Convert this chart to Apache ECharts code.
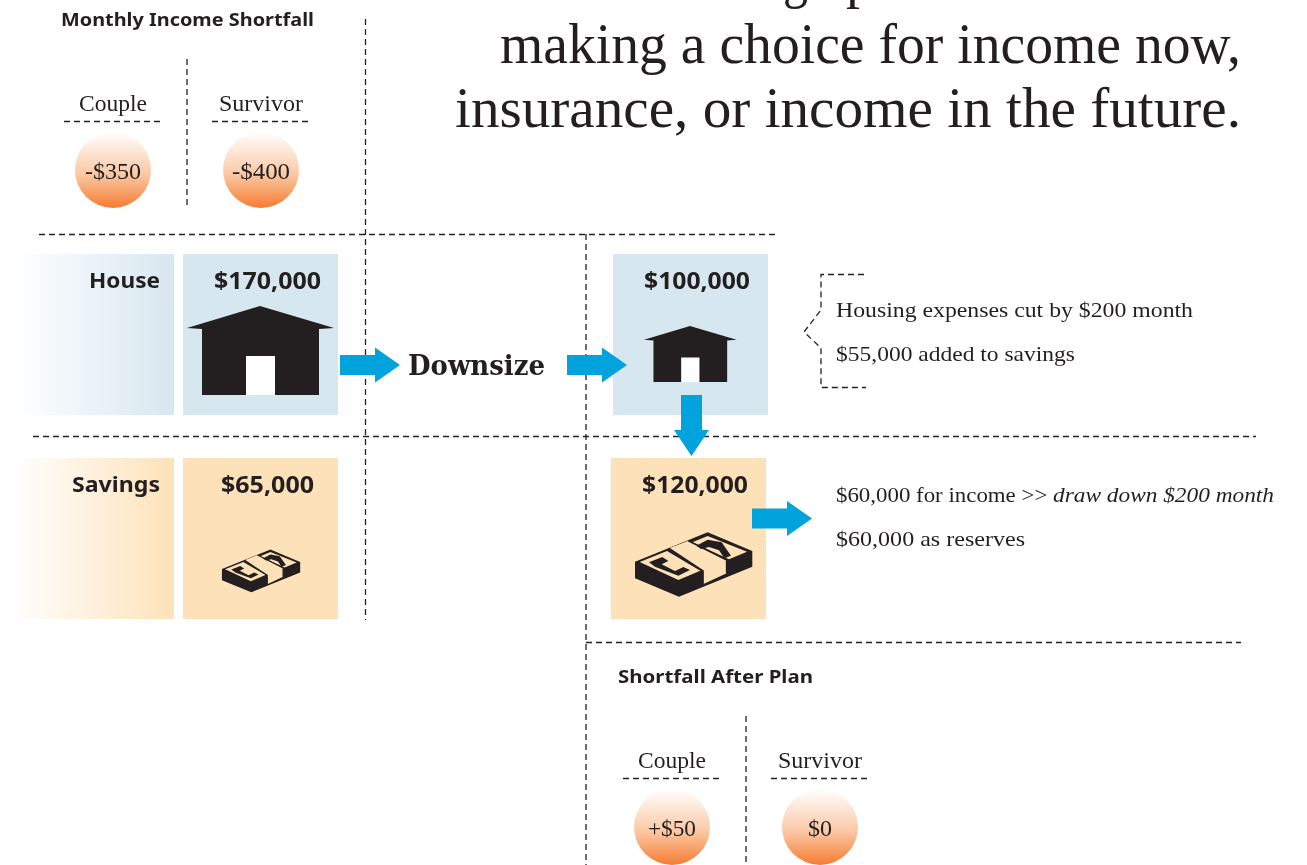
<!DOCTYPE html>
<html>
<head>
<meta charset="utf-8">
<title>Downsize</title>
<script src="https://cdn.jsdelivr.net/npm/echarts@6/dist/echarts.min.js"></script>
<style>
  html, body { margin: 0; padding: 0; background: #fff; }
  #chart { width: 1307px; height: 865px; }
</style>
</head>
<body>
<div id="chart"></div>
<script>
// text and values
const headlineLines = ['making a choice for income now,', 'insurance, or income in the future.']
const headlineCut = ['g', 'p'] // only the descenders of the cut-off first line are visible
const groups = ['Couple', 'Survivor']
const shortfallTitle = 'Monthly Income Shortfall'
const shortfallBefore = ['-$350', '-$400']
const afterTitle = 'Shortfall After Plan'
const shortfallAfter = ['+$50', '$0']
const rowNames = ['House', 'Savings']
const valuesBefore = ['$170,000', '$65,000']
const valuesAfter = ['$100,000', '$120,000']
const moveLabel = 'Downsize'
const houseNotes = ['Housing expenses cut by $200 month', '$55,000 added to savings']
const savingsNotes = ['$60,000 for income >> ', 'draw down $200 month', '$60,000 as reserves']

const INK = '#231f20'
const BLUE = '#00a3dc'
const SKY = '#d7e7f0'
const SAND = '#fde2b9'
const SERIF = '"Liberation Serif"'
const SANS = '"Noto Sans"'

const ctx = document.createElement('canvas').getContext('2d')
const els = []

// text squeezed to the width it has in the picture
function txt(s, x, y, w, size, family, weight, style) {
  const font = (style || 'normal') + ' ' + (weight || 'normal') + ' ' + size + 'px ' + family
  ctx.font = font
  els.push({
    type: 'text', x: x, y: y, z: 10,
    scaleX: w / ctx.measureText(s).width,
    style: { text: s, font: font, fill: INK, align: 'left', verticalAlign: 'middle' }
  })
}
function dash(points) {
  els.push({
    type: 'polyline', z: 3,
    shape: { points: points },
    style: { stroke: '#222', lineWidth: 1.3, lineDash: [6, 4], fill: null }
  })
}
function poly(points, fill, extra) {
  els.push({ type: 'polygon', z: 5, shape: { points: points }, style: Object.assign({ fill: fill }, extra || {}) })
}
function line(points, width) {
  els.push({ type: 'polyline', z: 6, shape: { points: points }, style: { stroke: INK, lineWidth: width, fill: null } })
}
function rect(x, y, w, h, fill) {
  els.push({ type: 'rect', z: 1, shape: { x: x, y: y, width: w, height: h }, style: { fill: fill } })
}
function fade(color) {
  return new echarts.graphic.LinearGradient(0, 0, 1, 0, [
    { offset: 0, color: '#ffffff' },
    { offset: 1, color: color }
  ])
}
function ball(cx, cy, s, x, w) {
  els.push({
    type: 'circle', z: 4, shape: { cx: cx, cy: cy, r: 38 },
    style: {
      fill: new echarts.graphic.LinearGradient(0, 0, 0, 1, [
        { offset: 0, color: '#ffffff' },
        { offset: 0.55, color: '#fbc9a6' },
        { offset: 1, color: '#f57c30' }
      ])
    }
  })
  txt(s, x, cy + 3, w, 23, SERIF)
}
function arrowRight(x, y) {
  poly([[x, y - 10], [x + 35, y - 10], [x + 35, y - 17.5], [x + 60, y], [x + 35, y + 17.5], [x + 35, y + 10], [x, y + 10]], BLUE)
}
function house(x, y, k) {
  const p = pts => pts.map(q => [x + q[0] * k, y + q[1] * k])
  poly(p([[73, 0], [147, 22], [132, 23], [132, 89], [15, 89], [15, 23], [0, 22]]), INK)
  poly(p([[59, 50], [88, 50], [88, 89], [59, 89]]), '#fff')
}
// money stack, outline taken in a 405 wide frame
function money(x, y, k, paper) {
  const p = pts => pts.map(q => [x + q[0] * k, y + q[1] * k])
  poly(p([[30, 110], [248, 22], [382, 78], [382, 125], [162, 215], [30, 160]]), INK)
  poly(p([[44, 111], [126, 78], [226, 137], [160, 165]]), paper)
  poly(p([[202, 52], [248, 33], [366, 80], [312, 103]]), paper)
  poly(p([[132, 70], [190, 47], [305, 105], [305, 145], [234, 178], [234, 138]]), paper)
  line(p([[132, 70], [234, 138], [234, 178]]), Math.max(1, k * 5))
  line(p([[190, 47], [305, 105], [305, 145]]), Math.max(1, k * 5))
  // letter marks on the note
  poly(p([[72, 112], [112, 96], [130, 108], [110, 118], [150, 138], [175, 126], [195, 135], [160, 152], [90, 125]]), INK)
  poly(p([[214, 62], [248, 44], [290, 52], [318, 92], [298, 100], [282, 76], [252, 66], [228, 72]]), INK)
}

// top cut-off line and headline
txt(headlineCut[0], 783, -18, 25, 56, SERIF)
txt(headlineCut[1], 846, -18, 28, 56, SERIF)
txt(headlineLines[0], 500, 48, 741, 56, SERIF)
txt(headlineLines[1], 455, 112, 786, 56, SERIF)

// dashed rules
dash([[365.5, 19], [365.5, 620]])
dash([[39, 234.5], [775, 234.5]])
dash([[586, 234], [586, 865]])
dash([[33, 436.5], [1256, 436.5]])
dash([[586, 642.5], [1241, 642.5]])
dash([[187, 59], [187, 208]])
dash([[64, 121.5], [164, 121.5]])
dash([[212, 121.5], [312, 121.5]])
dash([[746, 716], [746, 865]])
dash([[623, 778.5], [723, 778.5]])
dash([[771, 778.5], [871, 778.5]])
dash([[864, 274.5], [821, 274.5], [821, 310], [804, 332], [821, 348], [821, 387.5], [866, 387.5]])

// shortfall before
txt(shortfallTitle, 61, 21, 253, 18, SANS, 'bold')
txt(groups[0], 79, 105, 68, 23, SERIF)
txt(groups[1], 219, 105, 84, 23, SERIF)
ball(113, 170, shortfallBefore[0], 85, 56)
ball(261, 170, shortfallBefore[1], 232, 58)

// panels
rect(14, 254, 160, 161, fade(SKY))
rect(183, 254, 155, 161, SKY)
rect(613, 254, 155, 161, SKY)
rect(14, 458, 160, 161, fade(SAND))
rect(183, 458, 155, 161, SAND)
rect(611, 458, 155, 161, SAND)

txt(rowNames[0], 89, 282, 71, 22, SANS, 'bold')
txt(rowNames[1], 72, 486, 88, 22, SANS, 'bold')
txt(valuesBefore[0], 214, 282, 107, 23, SANS, 'bold')
txt(valuesBefore[1], 221, 486, 93, 23, SANS, 'bold')
txt(valuesAfter[0], 644, 282, 106, 23, SANS, 'bold')
txt(valuesAfter[1], 642, 486, 106, 23, SANS, 'bold')

house(187, 306, 1)
house(644, 326, 0.63)
money(625, 525, 1 / 3, SAND)
money(215.3, 544.6, 0.2222, SAND)

// arrows
arrowRight(340, 365)
arrowRight(567, 365)
arrowRight(752, 518.5)
poly([[681, 395], [702, 395], [702, 430], [709, 430], [691.5, 456], [674, 430], [681, 430]], BLUE)

txt(moveLabel, 408, 368, 137, 27, '"DejaVu Serif"', 'bold')

// notes
txt(houseNotes[0], 836, 311, 357, 22, SERIF)
txt(houseNotes[1], 836, 355, 239, 22, SERIF)
txt(savingsNotes[0], 836, 496, 217, 22, SERIF)
txt(savingsNotes[1], 1053, 496, 221, 22, SERIF, 'normal', 'italic')
txt(savingsNotes[2], 836, 540, 189, 22, SERIF)

// shortfall after
txt(afterTitle, 618, 678, 195, 18, SANS, 'bold')
txt(groups[0], 638, 762, 68, 23, SERIF)
txt(groups[1], 778, 762, 84, 23, SERIF)
ball(672, 827, shortfallAfter[0], 648, 48)
ball(820, 827, shortfallAfter[1], 808, 24)

const chart = echarts.init(document.getElementById('chart'))
chart.setOption({
  backgroundColor: '#fff',
  animation: false,
  graphic: { elements: els }
})
</script>
</body>
</html>
